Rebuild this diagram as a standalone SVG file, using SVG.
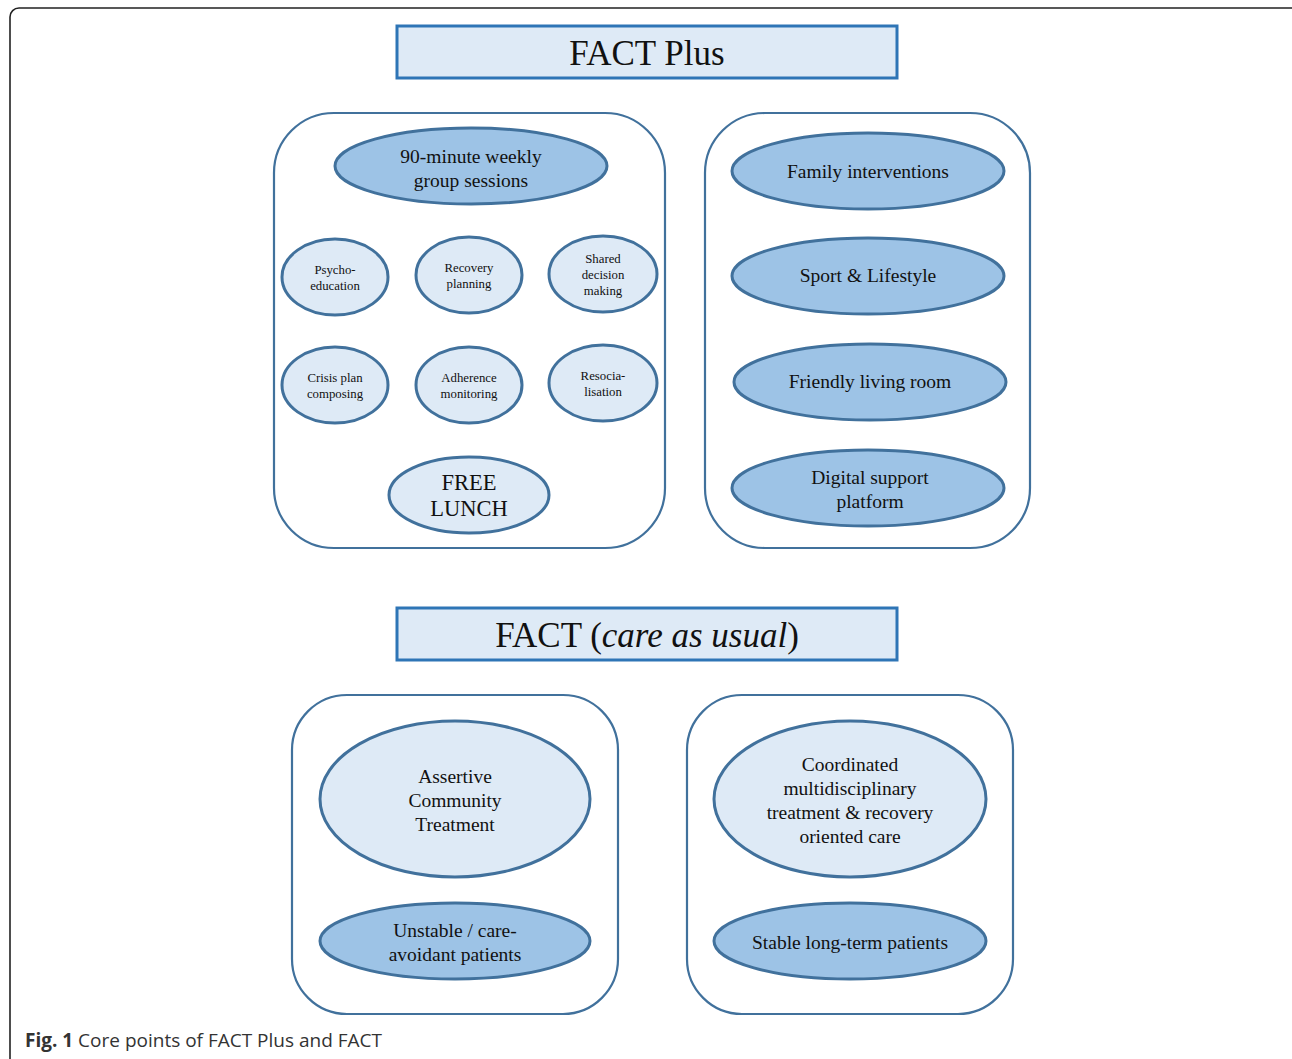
<svg xmlns="http://www.w3.org/2000/svg" width="1292" height="1059" viewBox="0 0 1292 1059">
<style>
.frame{fill:#fff;stroke:#222;stroke-width:1.6}
.title{fill:#DEEAF6;stroke:#2E75B6;stroke-width:3}
.box{fill:#fff;stroke:#41719C;stroke-width:2.2}
.dark{fill:#9DC3E6;stroke:#41719C;stroke-width:3}
.light{fill:#DEEAF6;stroke:#41719C;stroke-width:3}
text{font-family:"Liberation Serif","Times New Roman",serif;fill:#111;text-anchor:middle}
.t1{font-size:35px}
.t2{font-size:19.5px}
.t3{font-size:12.8px}
.t4{font-size:22.5px}
.cap{font-family:"Open Sans","Noto Sans",sans-serif;font-size:19px;fill:#333;text-anchor:start}
</style>
<rect class="frame" x="10" y="8" width="1300" height="1100" rx="9"/>
<g id="title-plus"><rect class="title" x="397" y="26" width="500" height="52"/><text class="t1" x="647" y="65">FACT Plus</text></g>
<g id="title-fact"><rect class="title" x="397" y="608" width="500" height="52"/><text class="t1" x="647" y="647">FACT (<tspan font-style="italic">care as usual</tspan>)</text></g>
<g id="box-a"><rect class="box" x="274" y="113" width="391" height="435" rx="60"/></g>
<g id="box-b"><rect class="box" x="705" y="113" width="325" height="435" rx="60"/></g>
<g id="box-c"><rect class="box" x="292" y="695" width="326" height="319" rx="55"/></g>
<g id="box-d"><rect class="box" x="687" y="695" width="326" height="319" rx="55"/></g>
<g id="n-weekly"><ellipse class="dark" cx="471" cy="166" rx="136" ry="38"/><text class="t2" x="471" y="163">90-minute weekly</text><text class="t2" x="471" y="187">group sessions</text></g>
<g id="n-psycho"><ellipse class="light" cx="335" cy="277" rx="53" ry="38"/><text class="t3" x="335" y="274">Psycho-</text><text class="t3" x="335" y="290">education</text></g>
<g id="n-recovery"><ellipse class="light" cx="469" cy="275" rx="53" ry="38"/><text class="t3" x="469" y="272">Recovery</text><text class="t3" x="469" y="288">planning</text></g>
<g id="n-shared"><ellipse class="light" cx="603" cy="274" rx="54" ry="38"/><text class="t3" x="603" y="263">Shared</text><text class="t3" x="603" y="279">decision</text><text class="t3" x="603" y="295">making</text></g>
<g id="n-crisis"><ellipse class="light" cx="335" cy="385" rx="53" ry="38"/><text class="t3" x="335" y="382">Crisis plan</text><text class="t3" x="335" y="398">composing</text></g>
<g id="n-adherence"><ellipse class="light" cx="469" cy="385" rx="53" ry="38"/><text class="t3" x="469" y="382">Adherence</text><text class="t3" x="469" y="398">monitoring</text></g>
<g id="n-resocia"><ellipse class="light" cx="603" cy="383" rx="54" ry="38"/><text class="t3" x="603" y="380">Resocia-</text><text class="t3" x="603" y="396">lisation</text></g>
<g id="n-lunch"><ellipse class="light" cx="469" cy="495" rx="80" ry="38"/><text class="t4" x="469" y="490">FREE</text><text class="t4" x="469" y="516">LUNCH</text></g>
<g id="n-family"><ellipse class="dark" cx="868" cy="171" rx="136" ry="38"/><text class="t2" x="868" y="178">Family interventions</text></g>
<g id="n-sport"><ellipse class="dark" cx="868" cy="276" rx="136" ry="38"/><text class="t2" x="868" y="282">Sport &amp; Lifestyle</text></g>
<g id="n-living"><ellipse class="dark" cx="870" cy="382" rx="136" ry="38"/><text class="t2" x="870" y="388">Friendly living room</text></g>
<g id="n-digital"><ellipse class="dark" cx="868" cy="488" rx="136" ry="38"/><text class="t2" x="870" y="484">Digital support</text><text class="t2" x="870" y="508">platform</text></g>
<g id="n-act"><ellipse class="light" cx="455" cy="799" rx="135" ry="78"/><text class="t2" x="455" y="783">Assertive</text><text class="t2" x="455" y="807">Community</text><text class="t2" x="455" y="831">Treatment</text></g>
<g id="n-unstable"><ellipse class="dark" cx="455" cy="941" rx="135" ry="38"/><text class="t2" x="455" y="937">Unstable / care-</text><text class="t2" x="455" y="961">avoidant patients</text></g>
<g id="n-coord"><ellipse class="light" cx="850" cy="799" rx="136" ry="78"/><text class="t2" x="850" y="771">Coordinated</text><text class="t2" x="850" y="795">multidisciplinary</text><text class="t2" x="850" y="819">treatment &amp; recovery</text><text class="t2" x="850" y="843">oriented care</text></g>
<g id="n-stable"><ellipse class="dark" cx="850" cy="941" rx="136" ry="38"/><text class="t2" x="850" y="949">Stable long-term patients</text></g>
<g id="connectors"></g>
<text class="cap" x="25" y="1047"><tspan font-weight="bold">Fig. 1</tspan> Core points of FACT Plus and FACT</text>
</svg>
